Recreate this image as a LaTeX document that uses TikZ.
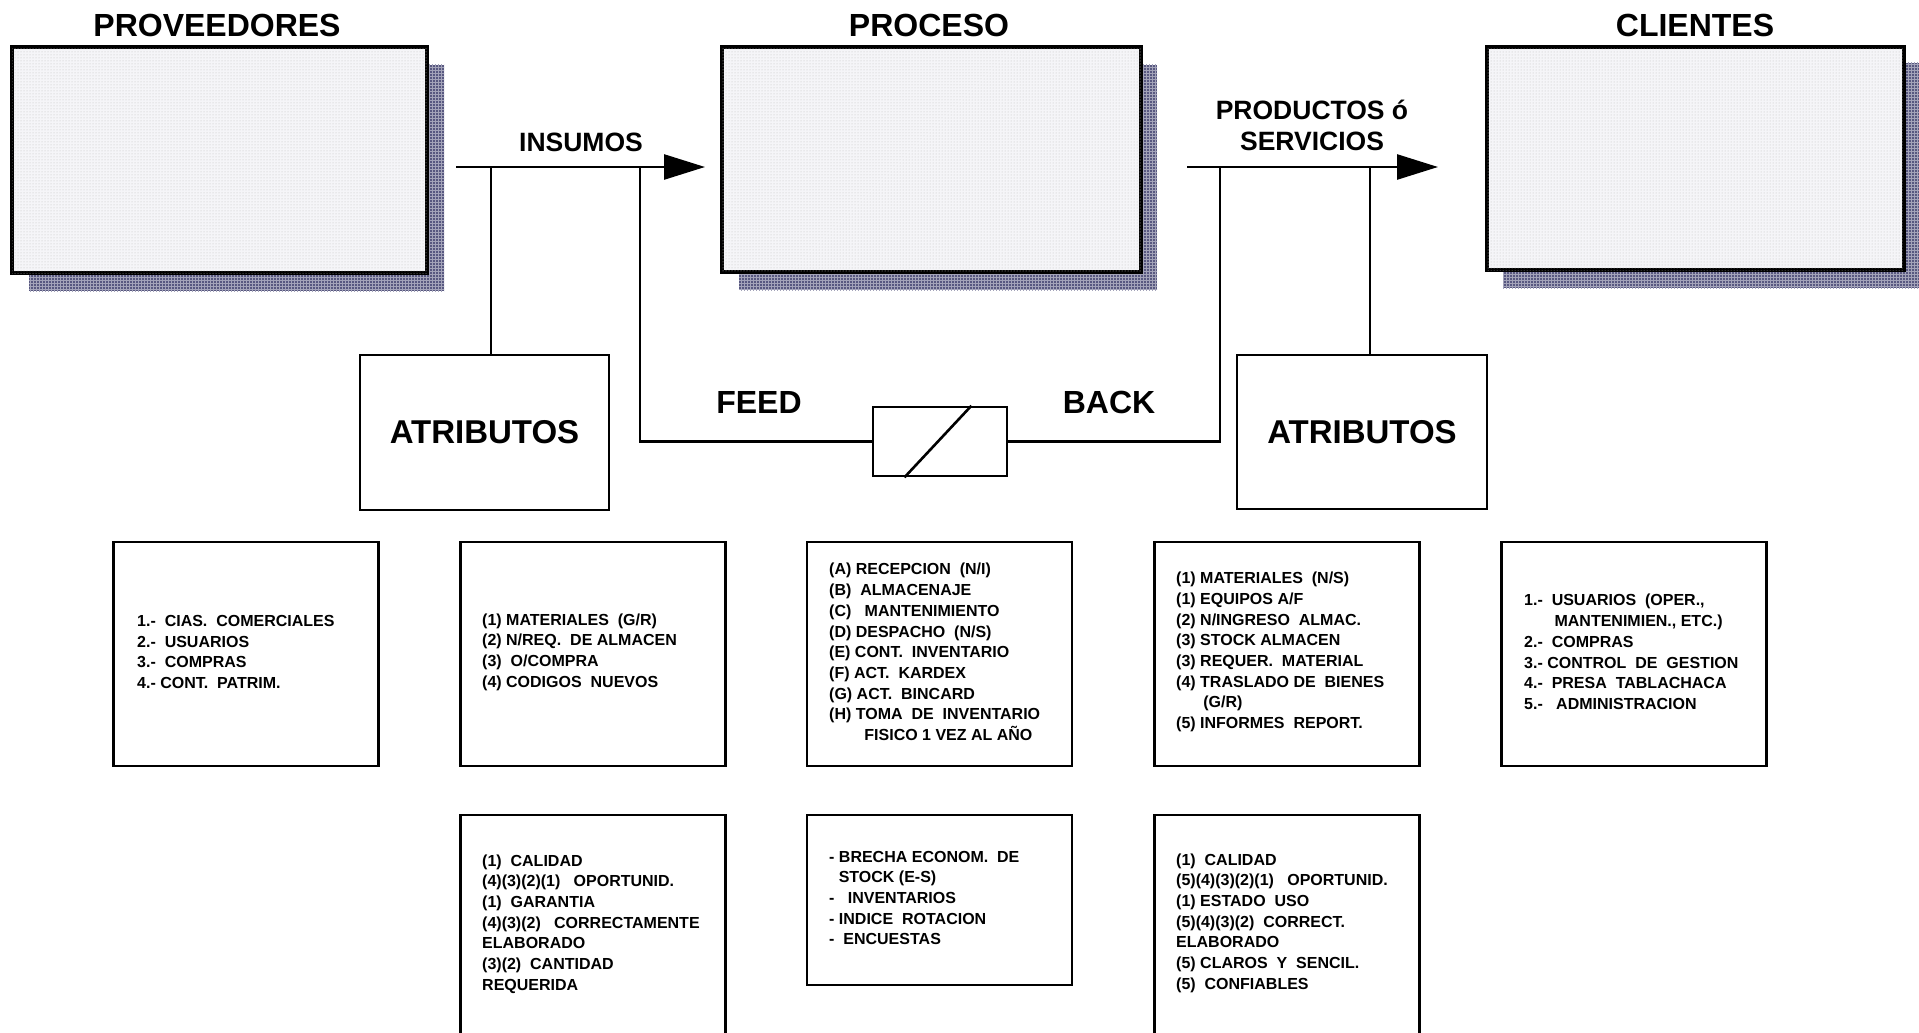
\documentclass[tikz,border=0pt]{standalone}
\usepackage{fontspec}
\setmainfont{Liberation Sans}
\usetikzlibrary{arrows.meta,patterns,calc}
\definecolor{boxfill}{RGB}{245,245,248}
\definecolor{shade}{RGB}{88,88,128}
\tikzset{
  shadowfill/.style={fill=shade, postaction={pattern=grid, pattern color=white!45!shade}},
  bigbox/.style={draw=black, line width=3.2pt, fill=boxfill, postaction={pattern=dots, pattern color=black!25}, inner sep=0pt},
  conn/.style={line width=2.6pt},
  arr/.style={conn, -{Triangle[length=41pt,width=25pt]}},
  attbox/.style={draw, line width=2.6pt, fill=white, inner sep=0pt, font=\fontsize{33}{38}\selectfont\bfseries},
  listbox/.style={draw, line width=2.6pt, fill=white, inner sep=0pt, minimum width=265pt},
  fbbox/.style={draw, line width=2.6pt, fill=white, inner sep=0pt, minimum width=134pt, minimum height=69pt},
  head/.style={font=\fontsize{32}{36}\selectfont\bfseries, inner sep=0pt},
  lbl/.style={font=\fontsize{26.5}{31}\selectfont\bfseries, align=center, inner sep=0pt},
  fblbl/.style={font=\fontsize{32}{36}\selectfont\bfseries, inner sep=0pt},
  listtxt/.style={font=\fontsize{16}{20.7}\selectfont\bfseries, align=left, inner sep=0pt, anchor=west},
}
\begin{document}
\begin{tikzpicture}[x=1pt,y=-1pt]
\useasboundingbox (0,0) rectangle (1919,1033);
\clip (0,0) rectangle (1919,1033);

% shadows of the three main boxes
\path[shadowfill] (29,65) rectangle (444,291);
\path[shadowfill] (739,65) rectangle (1157,290);
\path[shadowfill] (1503,63) rectangle (1921,288);

% main boxes
\node[bigbox, minimum width=415pt, minimum height=226pt] (prov) at (219.5,160) {};
\node[bigbox, minimum width=419pt, minimum height=225pt] (proc) at (931.5,159.5) {};
\node[bigbox, minimum width=417pt, minimum height=223pt] (cli) at (1695.5,158.5) {};

% titles
\node[head] (tprov) at (217,25) {PROVEEDORES};
\node[head] (tproc) at (929,25) {PROCESO};
\node[head] (tcli) at (1695,25) {CLIENTES};

% arrow labels
\node[lbl] (lins) at (581,142) {INSUMOS};
\node[lbl] (lprod) at (1312,125.5) {PRODUCTOS ó\\SERVICIOS};

% attribute boxes
\node[attbox, minimum width=249pt, minimum height=155pt] (at1) at (484.5,432.5) {ATRIBUTOS};
\node[attbox, minimum width=250pt, minimum height=154pt] (at2) at (1362,432) {ATRIBUTOS};

% feedback box
\node[fbbox] (fb) at (940,441.5) {};
\draw[conn] ($(fb.south west)!0.24!(fb.south east)$) -- ($(fb.north west)!0.73!(fb.north east)$);
\node[fblbl] (lfeed) at (759,402) {FEED};
\node[fblbl] (lback) at (1109,402) {BACK};

% connector coordinates
\coordinate (i0) at (456,167);
\coordinate (i1) at (705,167);
\coordinate (a1) at (491,167);
\coordinate (f0) at (640,167);
\coordinate (p0) at (1187,167);
\coordinate (p1) at (1438,167);
\coordinate (b0) at (1220,167);
\coordinate (a2) at (1370,167);

\draw[arr] (i0) -- (i1);
\draw[arr] (p0) -- (p1);
\draw[conn] (a1) -- (a1 |- at1.north);
\draw[conn] (a2) -- (a2 |- at2.north);
\draw[conn] (f0) |- (fb.west);
\draw[conn] (fb.east) -| (b0);

% list boxes, row 1
\node[listbox, minimum height=224pt] (r1) at (246,654) {};
\node[listbox, minimum height=224pt] (r2) at (593,654) {};
\node[listbox, minimum height=224pt] (r3) at (939.5,654) {};
\node[listbox, minimum height=224pt] (r4) at (1287,654) {};
\node[listbox, minimum height=224pt] (r5) at (1634,654) {};

% list boxes, row 2
\node[listbox, minimum height=240pt] (s1) at (593,935) {};
\node[listbox, minimum height=170pt] (s2) at (939.5,900) {};
\node[listbox, minimum height=240pt] (s3) at (1287,935) {};

% texts
\node[listtxt] (t1) at (137,652) {1.-\ \ CIAS.\ \ COMERCIALES\\2.-\ \ USUARIOS\\3.-\ \ COMPRAS\\4.-\ CONT.\ \ PATRIM.};
\node[listtxt] (t2) at (482,652) {(1)\ MATERIALES\ \ (G/R)\\(2) N/REQ.\ \ DE\ ALMACEN\\(3)\ \ O/COMPRA\\(4)\ CODIGOS\ \ NUEVOS};
\node[listtxt] (t3) at (829,652) {(A)\ RECEPCION\ \ (N/I)\\(B)\ \ ALMACENAJE\\(C)\ \ \ MANTENIMIENTO\\(D) DESPACHO\ \ (N/S)\\(E)\ CONT.\ \ INVENTARIO\\(F) ACT.\ \ KARDEX\\(G) ACT.\ \ BINCARD\\(H)\ TOMA\ \ DE\ \ INVENTARIO\\\hspace*{2.2em}FISICO 1 VEZ AL AÑO};
\node[listtxt] (t4) at (1176,652) {(1)\ MATERIALES\ \ (N/S)\\(1) EQUIPOS\ A/F\\(2)\ N/INGRESO\ \ ALMAC.\\(3)\ STOCK\ ALMACEN\\(3)\ REQUER.\ \ MATERIAL\\(4)\ TRASLADO DE\ \ BIENES\\\hspace*{1.7em}(G/R)\\(5)\ INFORMES\ \ REPORT.};
\node[listtxt] (t5) at (1524,652) {1.-\ \ USUARIOS\ \ (OPER.,\\\hspace*{1.9em}MANTENIMIEN.,\ ETC.)\\2.-\ \ COMPRAS\\3.-\ CONTROL\ \ DE\ \ GESTION\\4.-\ \ PRESA\ \ TABLACHACA\\5.-\ \ \ ADMINISTRACION};
\node[listtxt] (u1) at (482,924) {(1)\ \ CALIDAD\\(4)(3)(2)(1)\ \ \ OPORTUNID.\\(1)\ \ GARANTIA\\(4)(3)(2)\ \ \ CORRECTAMENTE\\ELABORADO\\(3)(2)\ \ CANTIDAD\\REQUERIDA};
\node[listtxt] (u2) at (829,898) {-\ BRECHA\ ECONOM.\ \ DE\\\hspace*{0.6em}STOCK (E-S)\\-\ \ \ INVENTARIOS\\-\ INDICE\ \ ROTACION\\-\ \ ENCUESTAS};
\node[listtxt] (u3) at (1176,923) {(1)\ \ CALIDAD\\(5)(4)(3)(2)(1)\ \ \ OPORTUNID.\\(1)\ ESTADO\ \ USO\\(5)(4)(3)(2)\ \ CORRECT.\\ELABORADO\\(5)\ CLAROS\ \ Y\ \ SENCIL.\\(5)\ \ CONFIABLES};
\end{tikzpicture}
\end{document}
